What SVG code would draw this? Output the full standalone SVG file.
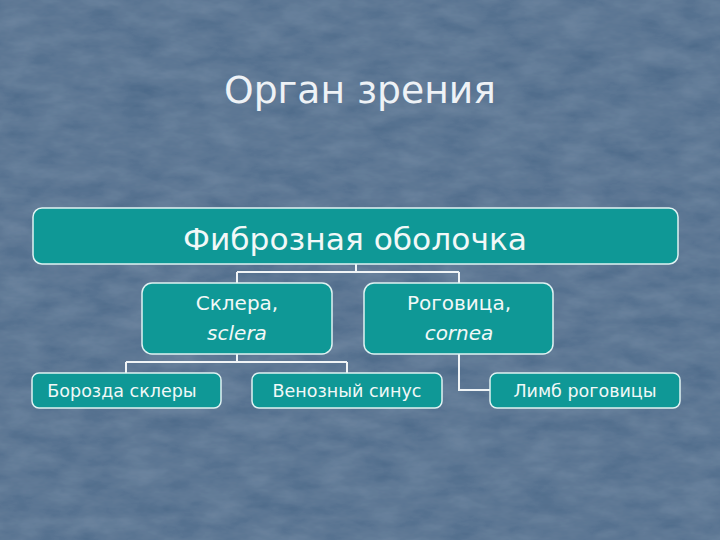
<svg xmlns="http://www.w3.org/2000/svg" width="720" height="540" viewBox="0 0 720 540">
<defs>
<filter id="tex" x="0" y="0" width="100%" height="100%">
<feTurbulence type="fractalNoise" baseFrequency="0.025 0.06" numOctaves="4" seed="3" result="n"/>
<feColorMatrix in="n" type="matrix" values="0 0 0 0 0.36  0 0 0 0 0.47  0 0 0 0 0.60  0 0 0 0.3 0" result="c"/>
<feComposite in="c" in2="SourceGraphic" operator="over"/>
</filter>
<style>
.box{fill:#0f9896;stroke:#dff2f2;stroke-width:1.5}
.ln{fill:none;stroke:#f0f4f6;stroke-width:2}
.t{font-family:"DejaVu Sans","Liberation Sans",sans-serif;fill:#f2f8f8;text-anchor:middle}
.it{font-style:italic}
</style>
</defs>
<rect width="720" height="540" fill="#4a6888" filter="url(#tex)"/>
<text class="t" x="360" y="103" font-size="38" style="fill:#eef2f6" textLength="272" lengthAdjust="spacingAndGlyphs">Орган зрения</text>
<g id="connectors">
<path class="ln" d="M356 264 V272 M237 272 H459 M237 272 V283 M459 272 V283"/>
<path class="ln" d="M237 354 V362 M126 362 H347 M126 362 V373 M347 362 V373"/>
<path class="ln" d="M459 354 V390 H490"/>
</g>
<g id="fibrous">
<rect class="box" x="33" y="208" width="645" height="56" rx="9"/>
<text class="t" x="355" y="250" font-size="31" textLength="344" lengthAdjust="spacingAndGlyphs">Фиброзная оболочка</text>
</g>
<g id="sclera">
<rect class="box" x="142" y="283" width="190" height="71" rx="10"/>
<text class="t" x="237" y="310" font-size="20">Склера,</text>
<text class="t it" x="237" y="340" font-size="20">sclera</text>
</g>
<g id="cornea">
<rect class="box" x="364" y="283" width="189" height="71" rx="10"/>
<text class="t" x="459" y="310" font-size="20">Роговица,</text>
<text class="t it" x="459" y="340" font-size="20">cornea</text>
</g>
<g id="sulcus">
<rect class="box" x="32" y="373" width="189" height="35" rx="7"/>
<text class="t" x="122" y="397" font-size="17.5">Борозда склеры</text>
</g>
<g id="sinus">
<rect class="box" x="252" y="373" width="190" height="35" rx="7"/>
<text class="t" x="347" y="397" font-size="17.5">Венозный синус</text>
</g>
<g id="limbus">
<rect class="box" x="490" y="373" width="190" height="35" rx="7"/>
<text class="t" x="585" y="397" font-size="17.5">Лимб роговицы</text>
</g>
</svg>
